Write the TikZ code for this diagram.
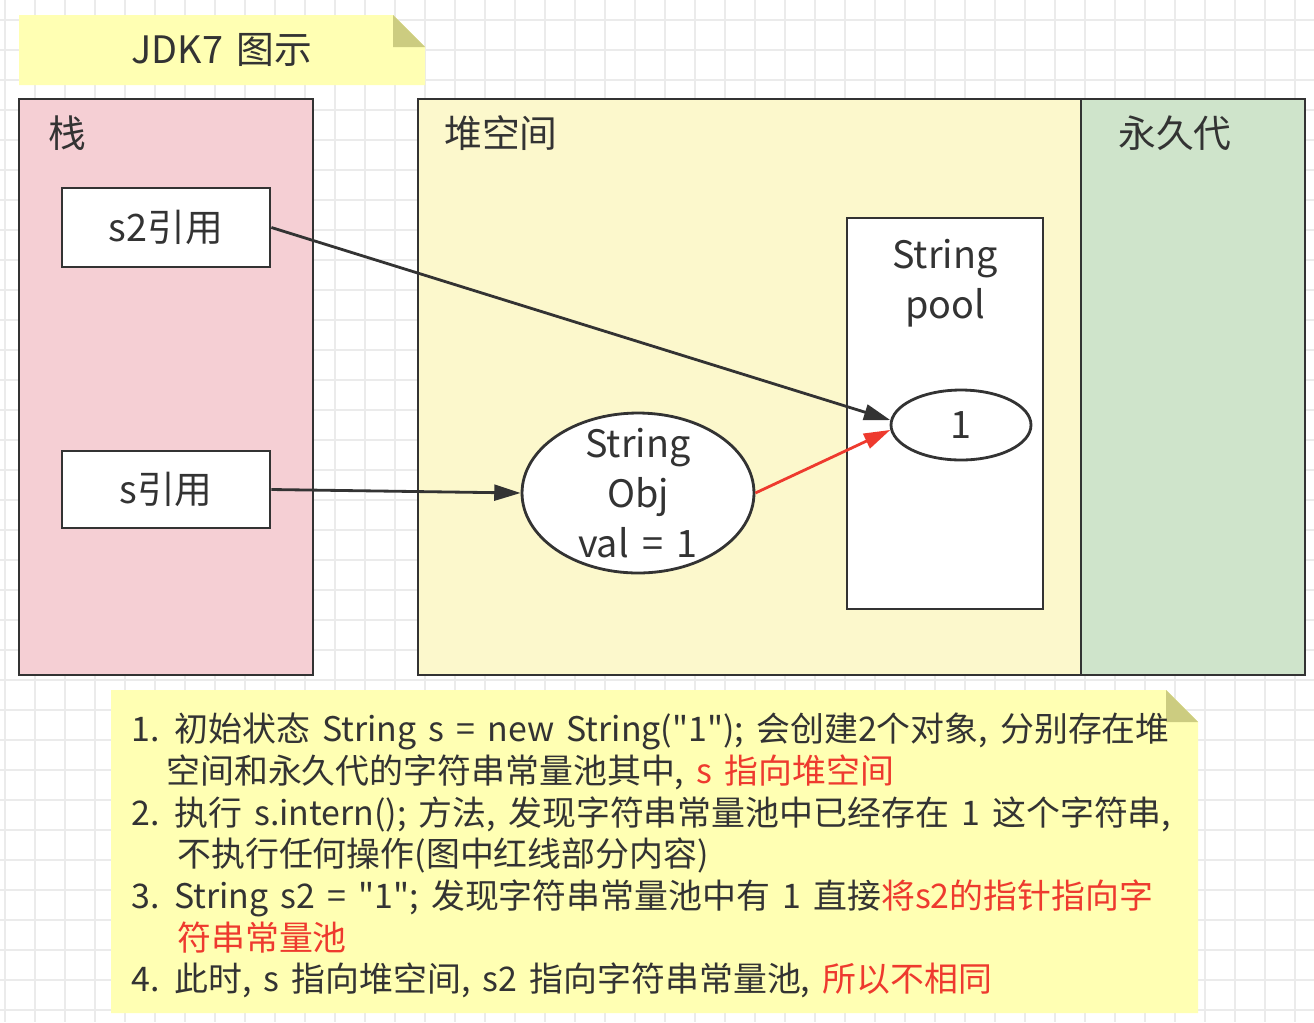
\documentclass[tikz,border=0pt]{standalone}
\usepackage{fontspec}
\setmainfont[WordSpace=1.6,Ligatures=TeXOff]{Noto Sans CJK SC}
\usetikzlibrary{arrows.meta,positioning,shapes.geometric}
\definecolor{ink}{HTML}{333333}
\definecolor{gridline}{HTML}{EBEBEB}
\definecolor{stackfill}{HTML}{F5CFD4}
\definecolor{heapfill}{HTML}{FCF8CC}
\definecolor{permfill}{HTML}{CFE4CB}
\definecolor{notefill}{HTML}{FFFFB3}
\definecolor{fold}{HTML}{CCCC80}
\definecolor{hot}{HTML}{EE3A2E}
\tikzset{region/.style={draw=ink,line width=1.6pt,inner sep=0pt}, lbl/.style={text=ink,align=center,font=\fontsize{21.5}{28.5}\selectfont}, refbox/.style={region,lbl,fill=white,minimum width=4.16cm}, oval/.style={ellipse,region,fill=white}, arr/.style={-{Triangle[length=15pt,width=9pt]},line width=1.6pt,draw=ink}, notetext/.style={text=ink,align=left,inner sep=0pt,font=\fontsize{19.3}{23.7}\selectfont}}

\begin{document}
\begin{tikzpicture}[x=0.02cm,y=-0.02cm]
\useasboundingbox (0,0) rectangle (1314,1022);
\fill[white] (0,0) rectangle (1314,1022);
\foreach \x in {5,35,...,1314}{\draw[gridline,line width=0.8pt](\x,0)--(\x,1022);}
\foreach \y in {20,50,...,1022}{\draw[gridline,line width=0.8pt](0,\y)--(1314,\y);}
\fill[notefill](19,15)--(393,15)--(425,47)--(425,85)--(19,85)--cycle;
\fill[fold](393,15)--(393,47)--(425,47)--cycle;
\node[lbl] (title) at (222,50) {JDK7 图示};
\node[region,fill=stackfill,minimum width=5.88cm,minimum height=11.52cm] (stack) at (166,387) {};
\node[region,fill=heapfill,minimum width=13.26cm,minimum height=11.52cm] (heap) at (749.5,387) {};
\node[region,fill=permfill,minimum width=4.48cm,minimum height=11.52cm] (perm) at (1193,387) {};
\node[lbl] (stacklbl) at (67,133) {栈};
\node[lbl] (heaplbl) at (501,133) {堆空间};
\node[lbl] (permlbl) at (1175,133) {永久代};
\node[refbox,minimum height=1.58cm] (s2ref) at (166,227.5) {s2引用};
\node[refbox,minimum height=1.54cm] (sref) at (166,489.5) {s引用};
\node[region,fill=white,minimum width=3.92cm,minimum height=7.82cm] (pool) at (945,413.5) {};
\node[lbl] (poolname) at (945,283) {String\\pool};
\node[oval,minimum width=2.8cm,minimum height=1.4cm] (one) at (961,425) {};
\node[lbl] (onetext) at (one) {1};
\node[oval,minimum width=4.64cm,minimum height=3.2cm] (obj) at (638,493) {};
\node[lbl] (objtext) at (obj) {String\\Obj\\val = 1};
\draw[arr](s2ref.east)--(one.176);
\draw[arr](sref.east)--(obj.west);
\draw[arr,draw=hot](obj.east)--(one.184);
\fill[notefill](111,690)--(1166,690)--(1198,722)--(1198,1013)--(111,1013)--cycle;
\fill[fold](1166,690)--(1166,722)--(1198,722)--cycle;
\node[notetext,anchor=north west] (steps) at (131,713) {1. 初始状态 String s = new String("1"); 会创建2个对象, 分别存在堆\\
\hspace*{0.7cm}空间和永久代的字符串常量池其中, {\color{hot}s 指向堆空间}\\
2. 执行 s.intern(); 方法, 发现字符串常量池中已经存在 1 这个字符串,\\
\hspace*{0.92cm}不执行任何操作(图中红线部分内容)\\
3. String s2 = "1"; 发现字符串常量池中有 1 直接{\color{hot}将s2的指针指向字}\\
\hspace*{0.92cm}{\color{hot}符串常量池}\\
4. 此时, s 指向堆空间, s2 指向字符串常量池, {\color{hot}所以不相同}};
\end{tikzpicture}
\end{document}
